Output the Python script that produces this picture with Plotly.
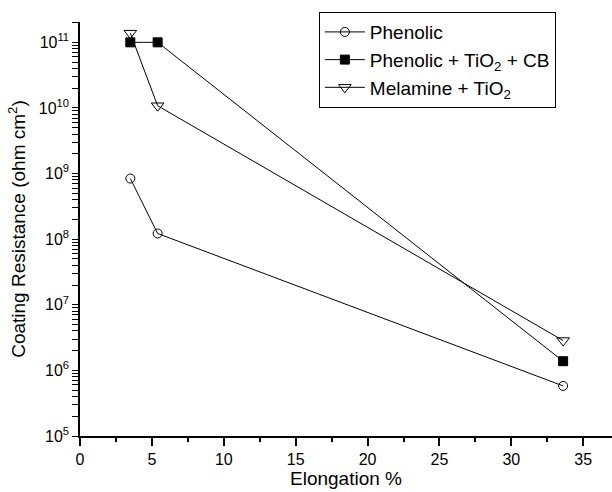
import plotly.graph_objects as go

elongation = [3.5, 5.4, 33.6]
phenolic = [8.4e8, 1.22e8, 5.8e5]
phenolic_tio2_cb = [1.0e11, 1.0e11, 1.38e6]
melamine_tio2 = [1.38e11, 1.08e10, 2.85e6]

names = ["Phenolic", "Phenolic + TiO<sub>2</sub> + CB", "Melamine + TiO<sub>2</sub>"]
series = [phenolic, phenolic_tio2_cb, melamine_tio2]
symbols = ["circle-open", "square", "triangle-down-open"]
sizes = [9, 9, 11]

y_exponents = [5, 6, 7, 8, 9, 10, 11]
y_major = [10 ** e for e in y_exponents]
y_major_text = [f"10<sup>{e}</sup>" for e in y_exponents]
y_minor = [m * 10 ** k for k in range(5, 12) for m in range(2, 10)]
y_tickvals = y_major + y_minor
y_ticktext = y_major_text + [""] * len(y_minor)

fig = go.Figure()
for name, ys, sym, sz in zip(names, series, symbols, sizes):
    fig.add_trace(go.Scatter(
        x=elongation, y=ys, name=name, mode="lines+markers",
        line=dict(color="black", width=1),
        marker=dict(symbol=sym, size=sz, color="black",
                    line=dict(color="black", width=1)),
    ))

fig.update_layout(
    width=612, height=492,
    margin=dict(l=80, r=0, t=22, b=56),
    paper_bgcolor="white", plot_bgcolor="white",
    font=dict(family="Liberation Sans, Arial, sans-serif", color="black", size=16),
    showlegend=True,
    legend=dict(x=0.449, y=1.024, xanchor="left", yanchor="top",
                bordercolor="black", borderwidth=1, bgcolor="white",
                font=dict(size=19), itemwidth=40, tracegroupgap=0),
    xaxis=dict(
        range=[0, 37], tick0=0, dtick=5, ticks="outside", ticklen=8,
        tickwidth=1.5, tickcolor="black", showline=True, linewidth=1.5,
        linecolor="black", showgrid=False, zeroline=False,
        tickfont=dict(size=16),
        minor=dict(ticks="outside", ticklen=4, tickwidth=1.5, tickcolor="black",
                   dtick=2.5, showgrid=False),
        title=dict(text="Elongation %", font=dict(size=19), standoff=4),
    ),
    yaxis=dict(
        type="log", range=[5, 11.31], tickmode="array",
        tickvals=y_tickvals, ticktext=y_ticktext,
        ticks="outside", ticklen=6, tickwidth=1.2, tickcolor="black",
        showline=True, linewidth=1.5, linecolor="black", showgrid=False,
        zeroline=False, tickfont=dict(size=16),
        title=dict(text="Coating Resistance (ohm cm<sup>2</sup>)",
                   font=dict(size=19), standoff=8),
    ),
)

fig.write_html("out.html")
